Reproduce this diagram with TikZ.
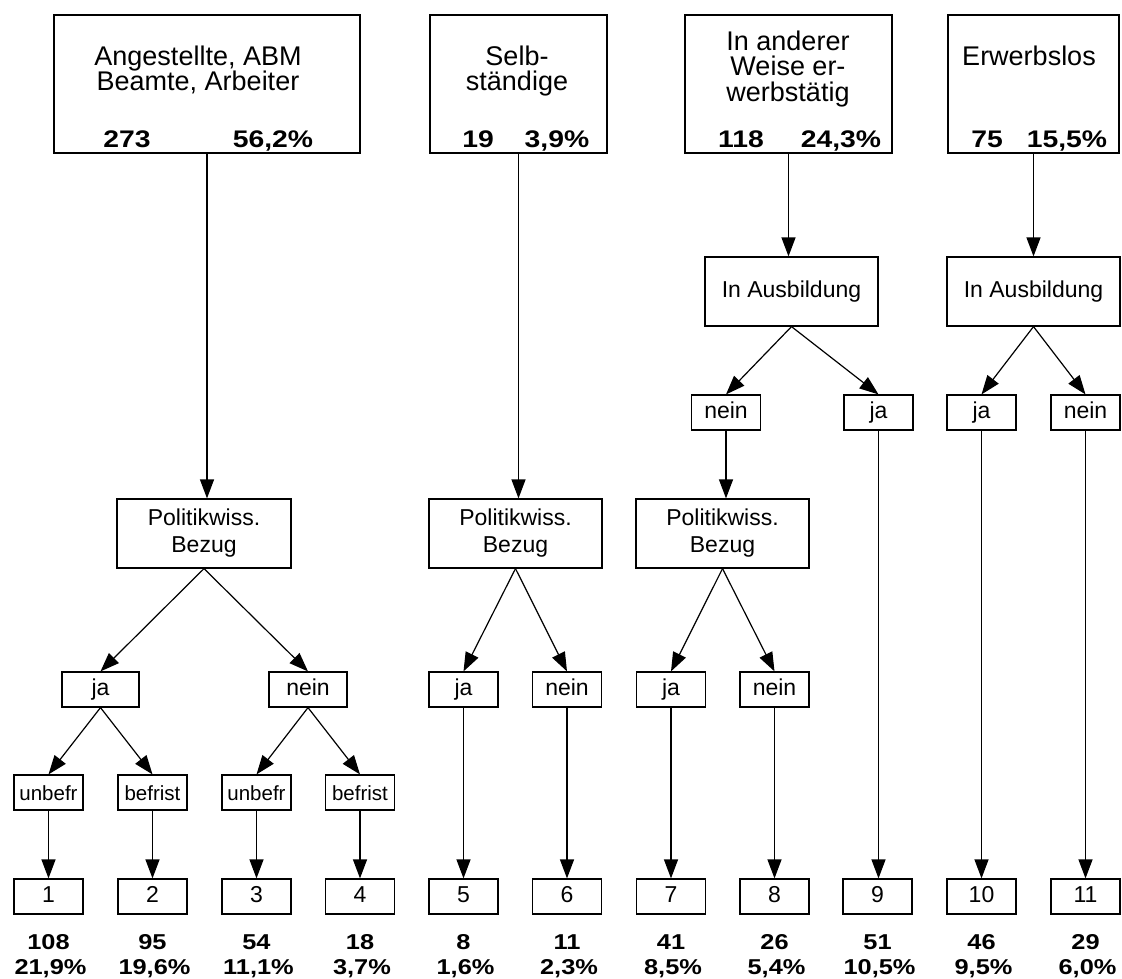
\documentclass[tikz,border=0pt]{standalone}
\usepackage{fontspec}
\setmainfont{Liberation Sans}
\newfontfamily\numfont[FakeStretch=1.18]{Liberation Sans}
\usetikzlibrary{arrows.meta}

\begin{document}
\begin{tikzpicture}[x=1pt,y=-1pt]
    \tikzset{box style/.style={draw, line width=1.2pt, rectangle, inner sep=0pt, align=center, font=\fontsize{23}{27}\selectfont}}
    \tikzset{top style/.style={draw, line width=1.2pt, rectangle, inner sep=0pt, minimum height=138pt}}
    \tikzset{mid style/.style={box style, minimum width=173pt, minimum height=69pt}}
    \tikzset{small style/.style={box style, minimum width=69pt, minimum height=35pt, text height=16pt, text depth=5pt}}
    \tikzset{frist style/.style={small style, font=\fontsize{20.5}{24}\selectfont, text height=15pt, text depth=0pt}}
    \tikzset{label style/.style={inner sep=0pt, align=center, anchor=north, font=\fontsize{27}{25.5}\selectfont}}
    \tikzset{num style/.style={inner sep=0pt, anchor=base, font=\fontsize{24}{24}\numfont\bfseries}}
    \tikzset{bnum style/.style={num style, font=\fontsize{21.5}{21.5}\numfont\bfseries}}
    \tikzset{line style/.style={line width=1.2pt, -{Triangle[length=19pt,width=14pt]}}}

    \useasboundingbox (0,0) rectangle (1122,978);

    % oberste Ebene
    \node[top style, minimum width=306pt] (angest) at (207,84) {};
    \node[top style, minimum width=177pt] (selbst) at (518.5,84) {};
    \node[top style, minimum width=207pt] (anderer) at (788.5,84) {};
    \node[top style, minimum width=171pt] (erwerb) at (1033.5,84) {};

    \node[label style] (angest-t) at (198,45.7) {Angestellte, ABM\\Beamte, Arbeiter};
    \node[label style] (selbst-t) at (517,45.7) {Selb-\\ständige};
    \node[label style] (anderer-t) at (788,30.5) {In anderer\\Weise er-\\werbstätig};
    \node[label style] (erwerb-t) at (1029,45.7) {Erwerbslos};

    \node[num style] (angest-n) at (127,147) {273};
    \node[num style] (angest-p) at (273,147) {56,2\%};
    \node[num style] (selbst-n) at (478,147) {19};
    \node[num style] (selbst-p) at (557,147) {3,9\%};
    \node[num style] (anderer-n) at (741,147) {118};
    \node[num style] (anderer-p) at (841,147) {24,3\%};
    \node[num style] (erwerb-n) at (987,147) {75};
    \node[num style] (erwerb-p) at (1067,147) {15,5\%};

    % Ausbildung
    \node[mid style] (ausb1) at (791.5,291.5) {In Ausbildung};
    \node[mid style] (ausb2) at (1033.5,291.5) {In Ausbildung};
    \node[small style] (ia1-nein) at (726,412.5) {nein};
    \node[small style] (ia1-ja) at (878.5,412.5) {ja};
    \node[small style] (ia2-ja) at (981.5,412.5) {ja};
    \node[small style] (ia2-nein) at (1085.5,412.5) {nein};

    % Politikwiss. Bezug
    \node[mid style, minimum width=174pt] (pol1) at (204,533.5) {Politikwiss.\\Bezug};
    \node[mid style] (pol2) at (515.5,533.5) {Politikwiss.\\Bezug};
    \node[mid style] (pol3) at (722.5,533.5) {Politikwiss.\\Bezug};

    \node[small style, minimum width=77pt] (p1-ja) at (100.5,689.5) {ja};
    \node[small style, minimum width=78pt] (p1-nein) at (308,689.5) {nein};
    \node[small style] (p2-ja) at (463.5,689.5) {ja};
    \node[small style] (p2-nein) at (567,689.5) {nein};
    \node[small style] (p3-ja) at (671,689.5) {ja};
    \node[small style] (p3-nein) at (774.5,689.5) {nein};

    \node[frist style] (ja-unbefr) at (48.5,792.5) {unbefr};
    \node[frist style] (ja-befrist) at (152.5,792.5) {befrist};
    \node[frist style] (nein-unbefr) at (256.5,792.5) {unbefr};
    \node[frist style] (nein-befrist) at (360,792.5) {befrist};

    % Endgruppen
    \foreach \x/\n/\cnt/\pct in {48.5/1/108/{21,9\%}, 152.5/2/95/{19,6\%}, 256.5/3/54/{11,1\%}, 360/4/18/{3,7\%},
        463.5/5/8/{1,6\%}, 567/6/11/{2,3\%}, 671/7/41/{8,5\%}, 774.5/8/26/{5,4\%},
        877.5/9/51/{10,5\%}, 981.5/10/46/{9,5\%}, 1085.5/11/29/{6,0\%}} {
        \node[small style] (leaf\n) at (\x,896.5) {\n};
        \node[bnum style] (cnt\n) at (\x,949) {\cnt};
        \node[bnum style] (pct\n) at (\x+2,974) {\pct};
    }

    % Pfeile
    \foreach \a/\b in {angest/pol1, selbst/pol2, anderer/ausb1, erwerb/ausb2, ia1-nein/pol3,
        ia1-ja/leaf9, ia2-ja/leaf10, ia2-nein/leaf11, ja-unbefr/leaf1, ja-befrist/leaf2,
        nein-unbefr/leaf3, nein-befrist/leaf4, p2-ja/leaf5, p2-nein/leaf6, p3-ja/leaf7, p3-nein/leaf8}
        \draw[line style] (\a.south) -- (\a.south |- \b.north);

    \foreach \a/\b in {ausb1/ia1-nein, ausb1/ia1-ja, ausb2/ia2-ja, ausb2/ia2-nein,
        pol1/p1-ja, pol1/p1-nein, p1-ja/ja-unbefr, p1-ja/ja-befrist, p1-nein/nein-unbefr,
        p1-nein/nein-befrist, pol2/p2-ja, pol2/p2-nein, pol3/p3-ja, pol3/p3-nein}
        \draw[line style] (\a.south) -- (\b.north);
\end{tikzpicture}
\end{document}
